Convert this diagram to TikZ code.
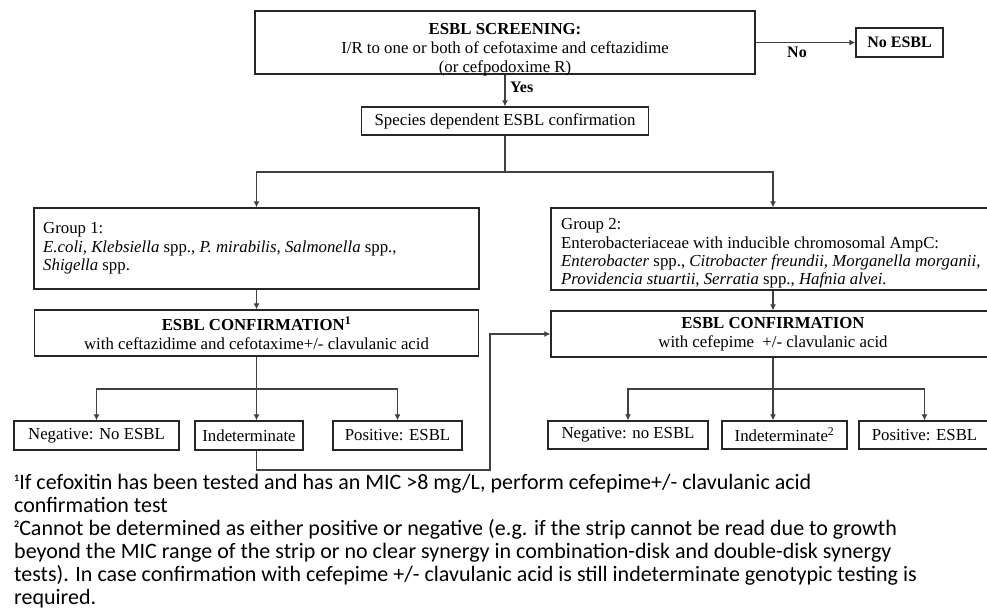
\documentclass[tikz,border=0pt]{standalone}
\usepackage{fontspec}
\setmainfont{Liberation Serif}
\newfontfamily\calib{Carlito}
\usetikzlibrary{arrows.meta}
\newcommand{\fnmark}[1]{\raisebox{8pt}{\fontsize{10}{10}\selectfont\bfseries #1}}
\tikzset{
  box/.style={draw=black!85, line width=1.3pt, inner sep=0pt, fill=white},
  txt/.style={inner sep=0pt, font=\fontsize{16.8}{19}\selectfont, align=center},
  ltxt/.style={inner sep=0pt, font=\fontsize{16.8}{18.3}\selectfont, align=left, anchor=north west},
  arr/.style={draw=black!75, line width=1.1pt, -{Latex[length=6pt,width=6pt]}},
  ln/.style={draw=black!75, line width=1.1pt},
  foot/.style={inner sep=0pt, font=\calib\fontsize{22}{23.1}\selectfont, align=left, anchor=north west}
}
\begin{document}
\begin{tikzpicture}[x=1pt,y=-1pt]
\useasboundingbox (0,0) rectangle (987,612);
\clip (0,0) rectangle (987,612);
\fill[white] (0,0) rectangle (987,612);

% boxes
\node[box, minimum width=500pt, minimum height=63pt] (scr) at (505,42.5) {};
\node[txt] (scrt) at (505,49.5) {\textbf{ESBL SCREENING:}\\I/R to one or both of cefotaxime and ceftazidime\\(or cefpodoxime R)};
\node[box, minimum width=87pt, minimum height=29pt, txt, font=\fontsize{16}{18.5}\selectfont\bfseries] (noesbl) at (899.5,42.5) {No ESBL};
\node[box, txt, minimum width=287pt, minimum height=28pt] (spec) at (505,121) {Species dependent ESBL confirmation};

\node[box, minimum width=445pt, minimum height=81pt] (g1) at (256.5,248.5) {};
\node[ltxt] (g1t) at (43,222.5) {Group 1:\\\textit{E.coli, Klebsiella} spp., \textit{P. mirabilis, Salmonella} spp.,\\\textit{Shigella} spp.};
\node[box, minimum width=444pt, minimum height=82pt] (g2) at (773,249) {};
\node[ltxt] (g2t) at (561,218.5) {Group 2:\\Enterobacteriaceae with inducible chromosomal AmpC:\\\textit{Enterobacter} spp., \textit{Citrobacter freundii, Morganella morganii,}\\\textit{Providencia stuartii, Serratia} spp., \textit{Hafnia alvei.}};

\node[box, txt, minimum width=444pt, minimum height=46pt] (c1) at (256.5,333) {\textbf{ESBL CONFIRMATION\textsuperscript{1}}\\with ceftazidime and cefotaxime+/- clavulanic acid};
\node[box, txt, minimum width=444pt, minimum height=46pt] (c2) at (773,334) {\textbf{ESBL CONFIRMATION}\\with cefepime \ +/- clavulanic acid};

\node[box, txt, minimum width=165pt, minimum height=29pt] (neg1) at (96.5,435.5) {Negative: No ESBL};
\node[box, txt, minimum width=108pt, minimum height=29pt] (ind1) at (249,435.5) {Indeterminate};
\node[box, txt, minimum width=129pt, minimum height=29pt] (pos1) at (397.5,435.5) {Positive: ESBL};

\node[box, txt, minimum width=160pt, minimum height=28pt] (neg2) at (628,435) {Negative: no ESBL};
\node[box, txt, minimum width=125pt, minimum height=28pt] (ind2) at (784.5,435) {Indeterminate\textsuperscript{2}};
\node[box, txt, minimum width=131pt, minimum height=28pt] (pos2) at (924.5,435) {Positive: ESBL};

% connectors
\draw[arr] (scr.east) -- (noesbl.west);
\node[txt, font=\fontsize{16}{18.5}\selectfont\bfseries] (nolab) at (797,52) {No};
\draw[arr] (scr.south) -- (spec.north);
\node[txt, font=\fontsize{16}{18.5}\selectfont\bfseries, anchor=west] (yeslab) at (510,87) {Yes};

\coordinate (split) at (505,172);
\draw[ln] (spec.south) -- (split);
\draw[arr] (split) -| (g1.north);
\draw[arr] (split) -| (g2.north);

\draw[arr] (g1.south) -- (c1.north);
\draw[arr] (g2.south) -- (c2.north);

\coordinate (s1) at (256.5,389);
\draw[ln] (c1.south) -- (s1);
\draw[arr] (s1) -| (neg1.north);
\draw[arr] (s1) -| (pos1.north);
\draw[arr] (s1) -- (s1 |- ind1.north);

\coordinate (s2) at (773,389);
\draw[ln] (c2.south) -- (s2);
\draw[arr] (s2) -| (neg2.north);
\draw[arr] (s2) -| (pos2.north);
\draw[arr] (s2) -- (s2 |- ind2.north);

\coordinate (loopx) at (490,470);
\draw[arr] (s1 |- ind1.south) -- (s1 |- loopx) -- (loopx) -- (loopx |- c2.west) -- (c2.west);

% footnotes
\node[foot] (f1) at (14,474) {\fnmark{1}If cefoxitin has been tested and has an MIC >8 mg/L, perform cefepime+/- clavulanic acid\\confirmation test\\\fnmark{2}Cannot be determined as either positive or negative (e.g. if the strip cannot be read due to growth\\beyond the MIC range of the strip or no clear synergy in combination-disk and double-disk synergy\\tests). In case confirmation with cefepime +/- clavulanic acid is still indeterminate genotypic testing is\\required.};
\end{tikzpicture}
\end{document}
